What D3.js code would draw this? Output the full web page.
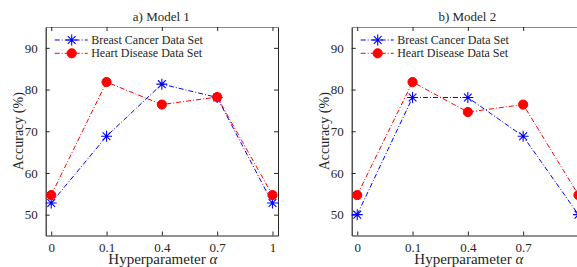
<!DOCTYPE html>
<html>
<head>
<meta charset="utf-8">
<script src="https://cdn.jsdelivr.net/npm/d3@7"></script>
<style>
  body { margin: 0; background: #fff; }
  svg { display: block; }
  text { font-family: "Liberation Serif", "Times New Roman", serif; fill: #262626; }
</style>
</head>
<body>
<svg id="chart" width="577" height="267"></svg>
<script>
// data
let alphas = ['0', '0.1', '0.4', '0.7', '1']
let yTicks = [50, 60, 70, 80, 90]
let seriesNames = ['Breast Cancer Data Set', 'Heart Disease Data Set']

let model1Breast = [52.8, 68.8, 81.3, 78.1, 52.8]
let model1Heart = [54.7, 81.8, 76.4, 78.2, 54.7]
let model2Breast = [50.0, 78.1, 78.1, 68.8, 50.0]
let model2Heart = [54.7, 81.8, 74.6, 76.4, 54.7]

let panels = [
    { title: 'a) Model 1', left: 45.7, series: [model1Breast, model1Heart] },
    { title: 'b) Model 2', left: 351.7, series: [model2Breast, model2Heart] }
]

let svg = d3.select('#chart')
let plotW = 232.3
let plotTop = 27, plotBottom = 235.5
let colors = ['#0000ff', '#ff0000']
let dash = '5,2,1,2'
let pageW = 577

function starPath(r) {
    let d = r * Math.SQRT1_2
    return `M${-r},0L${r},0M0,${-r}L0,${r}M${-d},${-d}L${d},${d}M${-d},${d}L${d},${-d}`
}

function drawMarker(g, k, x, y) {
    if (k == 0) {
        g.append('path')
            .attr('d', starPath(5.5))
            .attr('transform', `translate(${x},${y})`)
            .style('stroke', colors[0])
            .style('stroke-width', 1.1)
            .style('fill', 'none')
    } else {
        g.append('circle')
            .attr('cx', x).attr('cy', y).attr('r', 4.6)
            .style('fill', colors[1])
            .style('stroke', colors[1])
    }
}

panels.forEach((p) => {
    let g = svg.append('g')

    let x = d3.scalePoint().domain(alphas).range([p.left, p.left + plotW]).padding(0.1)
    let y = d3.scaleLinear().domain([45, 95]).range([plotBottom, plotTop])

    // axes, ticks pointing inward
    let topAxis = g.append('g').attr('transform', `translate(0,${plotTop})`)
        .call(d3.axisTop(x).tickSizeInner(-4).tickSizeOuter(0).tickFormat(''))
    let rightAxis = g.append('g').attr('transform', `translate(${p.left + plotW},0)`)
        .call(d3.axisRight(y).tickValues(yTicks).tickSizeInner(-4).tickSizeOuter(0).tickFormat(''))
    let xAxis = g.append('g').attr('transform', `translate(0,${plotBottom})`)
        .call(d3.axisBottom(x).tickSizeInner(-4).tickSizeOuter(0).tickPadding(7))
    let yAxis = g.append('g').attr('transform', `translate(${p.left},0)`)
        .call(d3.axisLeft(y).tickValues(yTicks).tickSizeInner(-4).tickSizeOuter(0).tickPadding(8))

    // the second panel runs off the page, its last label is not shown
    xAxis.selectAll('.tick text').filter(d => x(d) + 3 > pageW).remove()

    g.selectAll('.domain').style('stroke', '#262626')
    topAxis.select('.domain').style('stroke', '#8a8a8a')
    g.selectAll('.tick line').style('stroke', '#262626')
    g.selectAll('.tick text')
        .style('font-family', '"Liberation Serif", serif')
        .style('font-size', '13px')
        .style('fill', '#262626')
    xAxis.select('.domain').style('stroke-width', 1.2)
    yAxis.select('.domain').style('stroke-width', 1.2)

    // lines
    let line = d3.line().x((d, i) => x(alphas[i])).y(d => y(d))
    p.series.forEach((vals, k) => {
        g.append('path')
            .datum(vals)
            .attr('d', line)
            .style('fill', 'none')
            .style('stroke', colors[k])
            .style('stroke-width', 1)
            .style('stroke-dasharray', dash)
    })
    p.series.forEach((vals, k) => {
        vals.forEach((v, i) => drawMarker(g, k, x(alphas[i]), y(v)))
    })

    // legend
    seriesNames.forEach((name, k) => {
        let ly = 40 + k * 13.3
        g.append('line')
            .attr('x1', p.left + 9).attr('x2', p.left + 42)
            .attr('y1', ly).attr('y2', ly)
            .style('stroke', colors[k])
            .style('stroke-width', 1)
            .style('stroke-dasharray', dash)
        drawMarker(g, k, p.left + 26, ly)
        g.append('text')
            .attr('x', p.left + 45.5)
            .attr('y', ly + 4)
            .text(name)
            .style('font-size', '12px')
    })

    // titles and labels
    g.append('text')
        .attr('x', p.left + plotW / 2 - 0.5)
        .attr('y', 21)
        .attr('text-anchor', 'middle')
        .text(p.title)
        .style('font-size', '13px')

    g.append('text')
        .attr('x', p.left + plotW / 2 + 1)
        .attr('y', 264)
        .attr('text-anchor', 'middle')
        .style('font-size', '15px')
        .text('Hyperparameter ')
        .append('tspan')
        .style('font-style', 'italic')
        .text('α')

    g.append('text')
        .attr('transform', `translate(${p.left - 23},${(plotTop + plotBottom) / 2}) rotate(-90)`)
        .attr('text-anchor', 'middle')
        .style('font-size', '14px')
        .text('Accuracy (%)')
})
</script>
</body>
</html>
